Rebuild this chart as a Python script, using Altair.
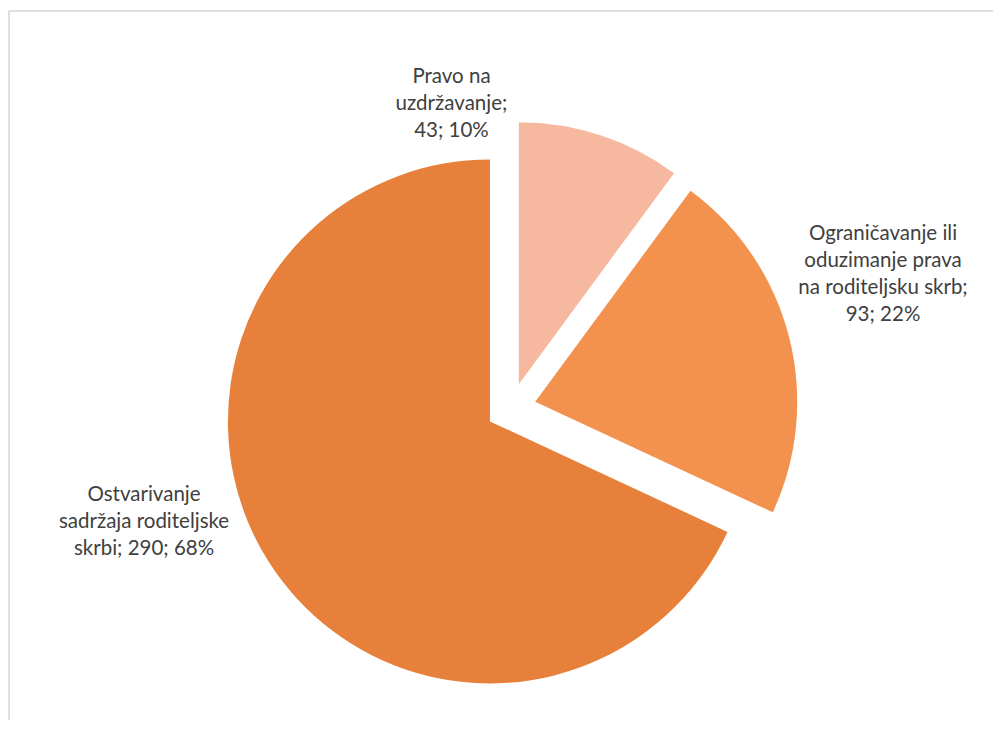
import altair as alt
import pandas as pd

# ---- data ----
CATEGORIES = [
    "Pravo na uzdržavanje",
    "Ograničavanje ili oduzimanje prava na roditeljsku skrb",
    "Ostvarivanje sadržaja roditeljske skrbi",
]
VALUES = [43, 93, 290]
PERCENTS = ["10%", "22%", "68%"]
# label text as wrapped in the original chart
LABEL_TEMPLATES = [
    "Pravo na\nuzdržavanje;\n{v}; {p}",
    "Ograničavanje ili\noduzimanje prava\nna roditeljsku skrb;\n{v}; {p}",
    "Ostvarivanje\nsadržaja roditeljske\nskrbi; {v}; {p}",
]

# ---- style / layout ----
COLORS = ["#F7B8A0", "#F3914F", "#E6803A"]
W, H = 985, 710
CX, CY = 503, 398          # pie centre inside the plot area
R = 262                    # pie radius
EXPLODE = 25               # slice explosion distance
LINE_H = 27
LABEL_OFFSETS = [(-149, -31), (94, -62), (-125, -40)]  # best-fit label nudges (block centre)
FONT = "Lato"

df = pd.DataFrame({
    "idx": list(range(len(CATEGORIES))),
    "category": CATEGORIES,
    "value": VALUES,
    "label": [t.format(v=v, p=p) for t, v, p in zip(LABEL_TEMPLATES, VALUES, PERCENTS)],
})

base = (
    alt.Chart(df)
    .transform_joinaggregate(total="sum(value)")
    .transform_window(cum="sum(value)", sort=[alt.SortField("idx")], frame=[None, 0])
    .transform_calculate(
        t0="2*PI*(datum.cum-datum.value)/datum.total",
        t1="2*PI*datum.cum/datum.total",
    )
    .transform_calculate(mid="(datum.t0+datum.t1)/2")
    .transform_calculate(
        cx=f"{CX}+{EXPLODE}*sin(datum.mid)",
        cy=f"{CY}-{EXPLODE}*cos(datum.mid)",
        lx=f"{CX}+{EXPLODE + R}*sin(datum.mid)",
        ly=f"{CY}-{EXPLODE + R}*cos(datum.mid)",
    )
)

arcs = base.mark_arc(radius=R).encode(
    theta=alt.Theta("t0:Q", scale=None),
    theta2="t1:Q",
    x=alt.X("cx:Q", scale=None, axis=None),
    y=alt.Y("cy:Q", scale=None, axis=None),
    color=alt.Color("category:N", scale=alt.Scale(domain=CATEGORIES, range=COLORS), legend=None),
)

labels = []
for i, (dx, dy) in enumerate(LABEL_OFFSETS):
    n_lines = LABEL_TEMPLATES[i].count("\n") + 1
    labels.append(
        base.transform_filter(f"datum.idx == {i}")
        .mark_text(
            dx=dx, dy=dy - (n_lines - 1) * LINE_H / 2, align="center", baseline="middle",
            lineBreak="\n", font=FONT, fontSize=20.5, lineHeight=LINE_H, color="#404040",
        )
        .encode(
            x=alt.X("lx:Q", scale=None, axis=None),
            y=alt.Y("ly:Q", scale=None, axis=None),
            text="label:N",
        )
    )

frame_top = alt.Chart(alt.Data(values=[{}])).mark_rule(color="#d6d6d6", strokeWidth=1.5).encode(
    x=alt.value(1), x2=alt.value(W), y=alt.value(1)
)
frame_left = alt.Chart(alt.Data(values=[{}])).mark_rule(color="#d6d6d6", strokeWidth=1.5).encode(
    x=alt.value(1), y=alt.value(1), y2=alt.value(H)
)

chart = (
    alt.layer(frame_top, frame_left, arcs, *labels)
    .properties(
        width=W, height=H,
        padding={"left": 0, "top": 2, "right": 0, "bottom": 0},
        autosize=alt.AutoSizeParams(type="none"),
        background="white",
    )
    .configure_view(stroke=None)
)

chart.save("out.html", embed_options={"renderer": "svg", "actions": False})
